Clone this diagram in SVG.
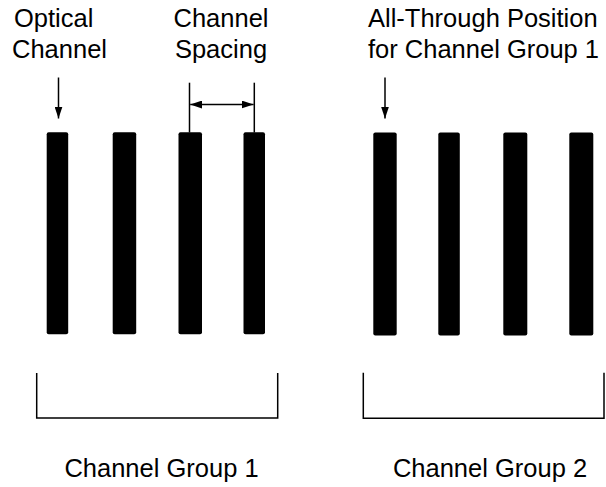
<svg xmlns="http://www.w3.org/2000/svg" width="606" height="487" viewBox="0 0 606 487">
<defs>
<style>
text{font-family:"Liberation Sans",Arial,sans-serif;font-size:25.5px;fill:#000}
.bar{fill:#000}
.ln{stroke:#000;stroke-width:1.5;fill:none}
</style>
<marker id="ah" viewBox="0 0 12 8" refX="12" refY="4" markerWidth="12" markerHeight="8" markerUnits="userSpaceOnUse" orient="auto-start-reverse">
<path d="M0,0 L12,4 L0,8 Z" fill="#000"/>
</marker>
</defs>
<rect width="606" height="487" fill="#fff"/>
<g id="labels">
<text x="14" y="26.5">Optical</text>
<text x="12" y="58">Channel</text>
<text x="221" y="26.5" text-anchor="middle">Channel</text>
<text x="221" y="58" text-anchor="middle">Spacing</text>
<text x="368" y="26.5">All-Through Position</text>
<text x="368" y="58">for Channel Group 1</text>
</g>
<g id="group1">
<rect class="bar" x="46.7" y="132.3" width="21.5" height="202" rx="2"/>
<rect class="bar" x="112.7" y="132.3" width="23.5" height="202" rx="2"/>
<rect class="bar" x="178.5" y="132.3" width="23.5" height="202" rx="2"/>
<rect class="bar" x="243.5" y="132.3" width="21.5" height="202" rx="2"/>
<path class="ln" d="M36.7,373 V418 H277.7 V373"/>
<text x="161.5" y="476.5" text-anchor="middle">Channel Group 1</text>
</g>
<g id="group2">
<rect class="bar" x="373.3" y="132.5" width="23.4" height="203" rx="2"/>
<rect class="bar" x="438.3" y="132.5" width="21.5" height="203" rx="2"/>
<rect class="bar" x="503.3" y="132.5" width="24" height="203" rx="2"/>
<rect class="bar" x="569.3" y="132.5" width="24" height="203" rx="2"/>
<path class="ln" d="M363.3,372.7 V418.3 H604 V372.7"/>
<text x="490" y="476.5" text-anchor="middle">Channel Group 2</text>
</g>
<g id="connectors">
<line class="ln" x1="58.5" y1="77.5" x2="58.5" y2="118.5" marker-end="url(#ah)"/>
<line class="ln" x1="385" y1="77.5" x2="385" y2="118.5" marker-end="url(#ah)"/>
<line class="ln" x1="189.5" y1="82.7" x2="189.5" y2="132.5"/>
<line class="ln" x1="254.3" y1="82.7" x2="254.3" y2="132.5"/>
<line class="ln" x1="190.2" y1="104.5" x2="253.6" y2="104.5" marker-start="url(#ah)" marker-end="url(#ah)"/>
</g>
</svg>
